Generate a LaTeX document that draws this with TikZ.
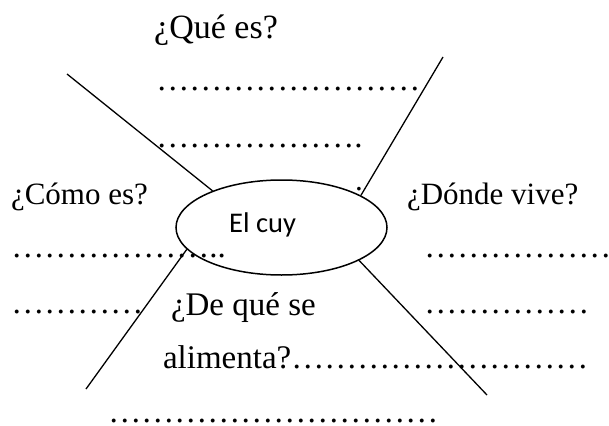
\documentclass[tikz,border=0pt]{standalone}
\usepackage{fontspec}
\setmainfont{Liberation Serif}
\newfontfamily\calib{Carlito}
\usetikzlibrary{shapes.geometric}
\begin{document}
\begin{tikzpicture}[x=1pt,y=-1pt,
  txt/.style={anchor=base west,inner sep=0pt,outer sep=0pt,font=\fontsize{31}{31}\selectfont},
  bigtxt/.style={anchor=base west,inner sep=0pt,outer sep=0pt,font=\fontsize{33}{33}\selectfont},
  dotrow/.style={anchor=base west,inner sep=0pt,outer sep=0pt,text depth=0pt,font=\fontsize{33}{33}\selectfont},
  spoke/.style={draw=black,line width=1.3pt},
  bubble/.style={ellipse,draw=black,line width=1.5pt,minimum width=211pt,minimum height=95pt,inner sep=0pt}]
\useasboundingbox (0,0) rectangle (609,425);
% centre
\node[bubble] (cuy) at (281.5,227.5) {};
\node[anchor=base west,inner sep=0pt,font=\calib\fontsize{28.5}{28.5}\selectfont] (cuylbl) at (229,232) {El cuy};
% texts
\node[anchor=base west,inner sep=0pt,font=\fontsize{34}{34}\selectfont] (que) at (154,39) {¿Qué es?};
\node[dotrow] (d1) at (156.3,91) {……………………};
\node[dotrow] (d2) at (156.3,147) {……………….};
\node[txt] (stray) at (355,190) {.};
\node[txt] (como) at (11,204) {¿Cómo es?};
\node[txt] (donde) at (407,204) {¿Dónde vive?};
\node[dotrow] (l1) at (11.3,257) {………………..};
\node[dotrow] (l2) at (11.3,313) {…………};
\node[dotrow] (r1) at (424.3,257) {……………….};
\node[dotrow] (r2) at (424.3,313) {……………};
\node[bigtxt] (deque) at (171,315) {¿De qué se};
\node[bigtxt] (alim) at (163,368) {alimenta?………………………};
\node[dotrow] (bot) at (108.3,422) {…………………………};
% spokes
\coordinate (ul) at (67,74);
\coordinate (ur) at (443,57);
\coordinate (ll) at (86,389);
\coordinate (lr) at (487,395);
\draw[spoke] (ul) -- (cuy.152);
\draw[spoke] (ur) -- (cuy.22);
\draw[spoke] (ll) -- (cuy.193);
\draw[spoke] (lr) -- (cuy.-23);
\end{tikzpicture}
\end{document}
